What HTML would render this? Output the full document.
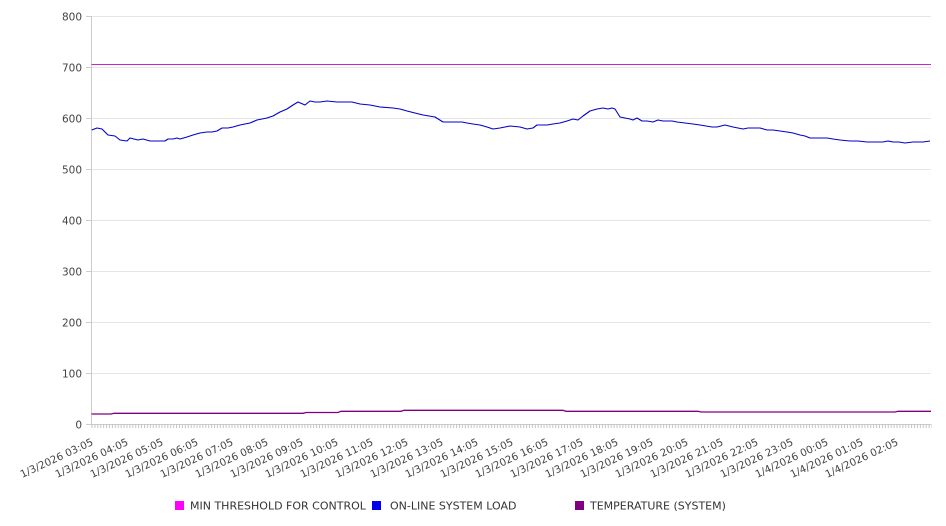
<!DOCTYPE html>
<html><head><meta charset="utf-8"><style>
html,body{margin:0;padding:0;background:#fff;}
svg{display:block;font-family:"DejaVu Sans","Liberation Sans",sans-serif;}
</style></head><body>
<svg width="946" height="526" viewBox="0 0 946 526" xmlns="http://www.w3.org/2000/svg">
<defs>
<pattern id="tk" x="91.5" y="0" width="2.9167" height="10" patternUnits="userSpaceOnUse">
<rect x="0" y="0" width="1" height="10" fill="#c4c4c4"/>
</pattern>
</defs>
<!-- grid -->
<g stroke="#e6e6e6" stroke-width="1">
<line x1="86" y1="16.5" x2="931" y2="16.5"/>
<line x1="86" y1="67.5" x2="931" y2="67.5"/>
<line x1="86" y1="118.5" x2="931" y2="118.5"/>
<line x1="86" y1="169.5" x2="931" y2="169.5"/>
<line x1="86" y1="220.5" x2="931" y2="220.5"/>
<line x1="86" y1="271.5" x2="931" y2="271.5"/>
<line x1="86" y1="322.5" x2="931" y2="322.5"/>
<line x1="86" y1="373.5" x2="931" y2="373.5"/>
</g>
<g stroke="#cccccc" stroke-width="1">
<line x1="86" y1="16.5" x2="91" y2="16.5"/>
<line x1="86" y1="67.5" x2="91" y2="67.5"/>
<line x1="86" y1="118.5" x2="91" y2="118.5"/>
<line x1="86" y1="169.5" x2="91" y2="169.5"/>
<line x1="86" y1="220.5" x2="91" y2="220.5"/>
<line x1="86" y1="271.5" x2="91" y2="271.5"/>
<line x1="86" y1="322.5" x2="91" y2="322.5"/>
<line x1="86" y1="373.5" x2="91" y2="373.5"/>
<line x1="86" y1="424.5" x2="931" y2="424.5"/>
<line x1="91.5" y1="16" x2="91.5" y2="425"/>
</g>
<rect x="91" y="424" width="841" height="4" fill="url(#tk)"/>
<!-- y labels -->
<g font-size="10.5" fill="#444" text-anchor="end">
<text x="82" y="20.5">800</text>
<text x="82" y="71.5">700</text>
<text x="82" y="122.5">600</text>
<text x="82" y="173.5">500</text>
<text x="82" y="224.5">400</text>
<text x="82" y="275.5">300</text>
<text x="82" y="326.5">200</text>
<text x="82" y="377.5">100</text>
<text x="82" y="428.5">0</text>
</g>
<!-- threshold -->
<line x1="91.5" y1="64.5" x2="931" y2="64.5" stroke="#cc22cc" stroke-width="1.1"/>
<!-- load -->
<polyline fill="none" stroke="#0000cc" stroke-width="1.1" stroke-linejoin="round" points="
91.7,130 97,128 102,129 105,132 108,135 115,136 120,140 127,141 130,138 134,139 138,140 143,139 150,141 157,141 165,141 168,139 173,139 177,138 180,139 187,137 193,135 200,133 207,132 212,132 217,131 222,128 228,128 233,127 240,125 245,124 250,123 257,120 262,119 267,118 273,116 280,112 287,109 293,105 298,102 305,105 310,101 315,102 320,102 327,101 337,102 352,102 360,104 370,105 380,107 393,108 400,109 407,111 415,113 423,115 429,116 435,117 443,122 462,122 467,123 473,124 480,125 487,127 493,129 500,128 505,127 510,126 520,127 527,129 533,128 537,125 547,125 553,124 560,123 567,121 573,119 578,120 583,116 590,111 597,109 603,108 608,109 612,108 615,109 620,117 625,118 630,119 633,120 637,118 642,121 647,121 653,122 658,120 663,121 667,121 672,121 677,122 685,123 693,124 700,125 706,126 712,127 717,127 721,126 725,125 729,126 733,127 738,128 743,129 748,128 754,128 760,128 767,130 773,130 780,131 787,132 793,133 800,135 805,136 810,138 818,138 827,138 833,139 840,140 850,141 858,141 867,142 875,142 883,142 888,141 893,142 899,142 905,143 913,142 918,142 923,142 930,141"/>
<!-- temperature -->
<polyline fill="none" stroke="#800080" stroke-width="1.3" points="
91.5,414 111,414 114,413.3 303,413.3 306,412.5 338,412.5 341,411.3 401,411.3 404,410.3 563,410.3 566,411.3 698,411.3 701,412 895,412 898,411.3 931,411.3"/>
<!-- x labels -->
<g font-size="10.3" fill="#444" text-anchor="end">
<text transform="translate(94,444.5) rotate(-25)">1/3/2026 03:05</text>
<text transform="translate(129,444.5) rotate(-25)">1/3/2026 04:05</text>
<text transform="translate(164,444.5) rotate(-25)">1/3/2026 05:05</text>
<text transform="translate(199,444.5) rotate(-25)">1/3/2026 06:05</text>
<text transform="translate(234,444.5) rotate(-25)">1/3/2026 07:05</text>
<text transform="translate(269,444.5) rotate(-25)">1/3/2026 08:05</text>
<text transform="translate(304,444.5) rotate(-25)">1/3/2026 09:05</text>
<text transform="translate(339,444.5) rotate(-25)">1/3/2026 10:05</text>
<text transform="translate(374,444.5) rotate(-25)">1/3/2026 11:05</text>
<text transform="translate(409,444.5) rotate(-25)">1/3/2026 12:05</text>
<text transform="translate(444,444.5) rotate(-25)">1/3/2026 13:05</text>
<text transform="translate(479,444.5) rotate(-25)">1/3/2026 14:05</text>
<text transform="translate(514,444.5) rotate(-25)">1/3/2026 15:05</text>
<text transform="translate(549,444.5) rotate(-25)">1/3/2026 16:05</text>
<text transform="translate(584,444.5) rotate(-25)">1/3/2026 17:05</text>
<text transform="translate(619,444.5) rotate(-25)">1/3/2026 18:05</text>
<text transform="translate(654,444.5) rotate(-25)">1/3/2026 19:05</text>
<text transform="translate(689,444.5) rotate(-25)">1/3/2026 20:05</text>
<text transform="translate(724,444.5) rotate(-25)">1/3/2026 21:05</text>
<text transform="translate(759,444.5) rotate(-25)">1/3/2026 22:05</text>
<text transform="translate(794,444.5) rotate(-25)">1/3/2026 23:05</text>
<text transform="translate(829,444.5) rotate(-25)">1/4/2026 00:05</text>
<text transform="translate(864,444.5) rotate(-25)">1/4/2026 01:05</text>
<text transform="translate(899,444.5) rotate(-25)">1/4/2026 02:05</text>
</g>
<!-- legend -->
<rect x="175" y="501" width="9" height="9" fill="#ff00ff"/>
<rect x="372" y="501" width="9" height="9" fill="#0000ee"/>
<rect x="575" y="501" width="9" height="9" fill="#800080"/>
<g font-size="11" fill="#333">
<text x="190" y="509.5">MIN THRESHOLD FOR CONTROL</text>
<text x="390" y="509.5">ON-LINE SYSTEM LOAD</text>
<text x="590" y="509.5">TEMPERATURE (SYSTEM)</text>
</g>
</svg>
</body></html>
